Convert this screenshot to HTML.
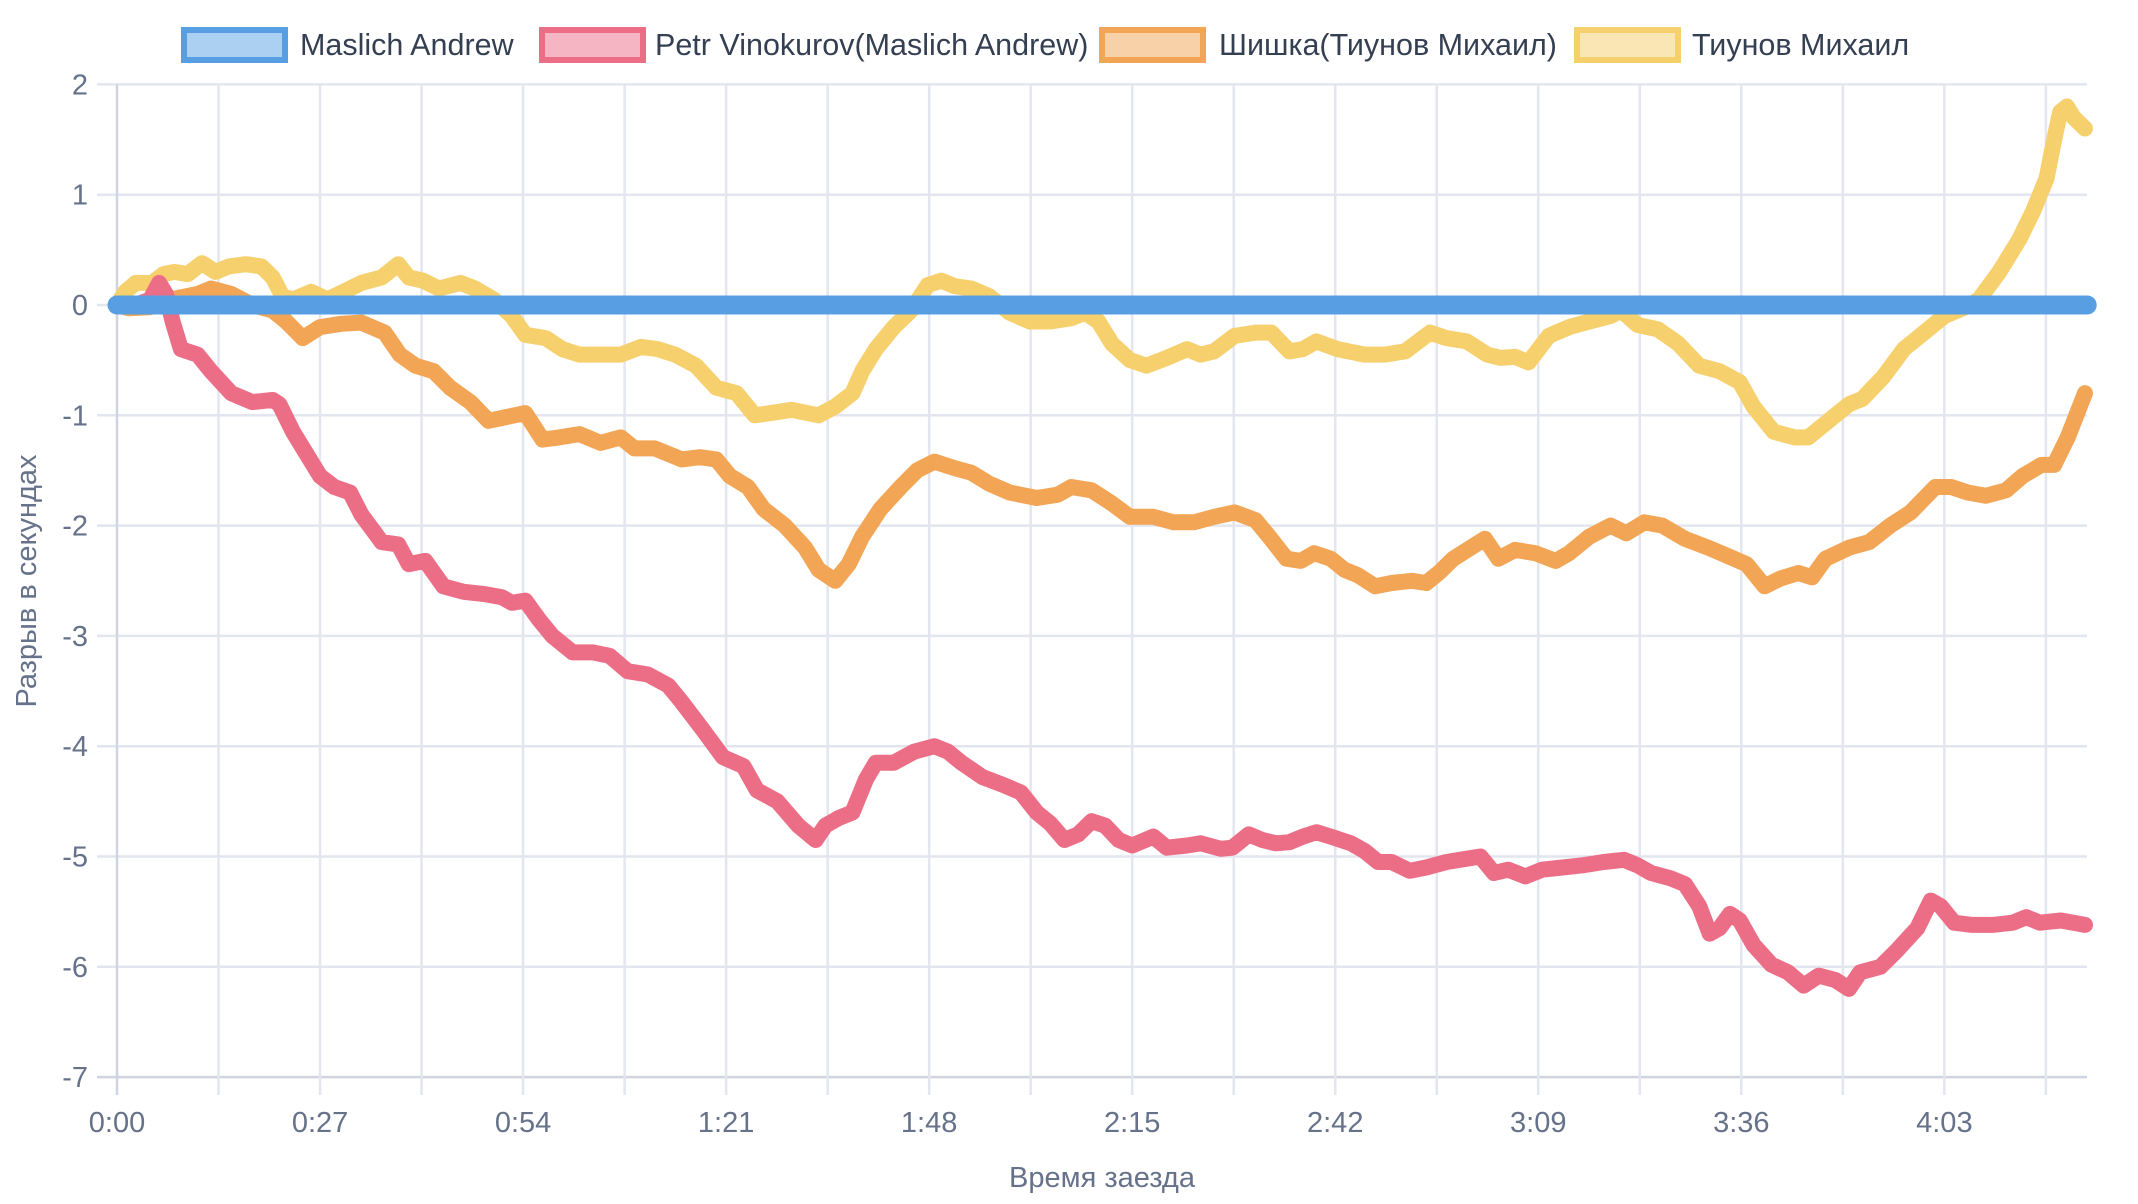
<!DOCTYPE html>
<html><head><meta charset="utf-8"><style>
html,body{margin:0;padding:0;background:#fff;}
svg{display:block;font-family:"Liberation Sans","Noto Sans CJK SC",sans-serif;}
</style></head><body>
<svg id="chart" width="2138" height="1204" viewBox="0 0 2138 1204" xmlns="http://www.w3.org/2000/svg">
<g id="grid"></g>
<g id="axes"></g>
<g id="series"></g>
<g id="legend"></g>
<text x="1102" y="1187" font-size="29" fill="#66718a" text-anchor="middle">Время заезда</text>
<text transform="translate(36,581) rotate(-90)" font-size="29" fill="#66718a" text-anchor="middle">Разрыв в секундах</text>
</svg>
<script>
const yTicks=[2,1,0,-1,-2,-3,-4,-5,-6,-7];
const xTickLabels=["0:00","0:27","0:54","1:21","1:48","2:15","2:42","3:09","3:36","4:03"];
const seriesNames=["Maslich Andrew","Petr Vinokurov(Maslich Andrew)","Шишка(Тиунов Михаил)","Тиунов Михаил"];
const blueT=[0,262];
const blueV=[0,0];
const redT=[0,2.5,4.4,5.6,6.5,7.4,8.5,10.7,12.5,15.2,18.0,20.7,21.6,23.4,25.2,27.0,28.9,31.0,32.5,35.2,37.4,38.8,41.0,43.4,46.1,48.8,51.2,52.5,54.3,56.1,57.9,60.6,63.3,65.5,67.9,70.6,73.3,75.1,77.9,80.6,83.3,85.1,87.8,90.6,92.9,94.2,96.0,97.8,99.6,100.9,103.3,106.0,108.7,110.5,112.3,115.1,117.8,120.2,122.3,124.1,126.0,127.8,129.6,131.4,133.2,135.0,137.8,139.6,142.3,144.1,146.8,148.3,150.5,152.3,154.1,155.9,157.7,159.5,161.4,164.1,165.9,167.7,169.5,171.9,174.1,176.8,179.5,181.3,183.1,185.0,187.3,189.5,192.2,194.9,197.7,200.4,202.2,204.0,206.7,208.5,210.4,211.8,213.1,214.5,215.8,217.6,220.0,222.2,224.3,226.3,228.5,230.3,231.8,234.5,236.7,239.4,241.2,242.5,244.3,246.7,249.4,252.1,253.9,255.7,258.5,261.7];
const redV=[0,0,0.05,0.2,0.1,-0.15,-0.4,-0.45,-0.6,-0.8,-0.88,-0.86,-0.9,-1.15,-1.35,-1.55,-1.65,-1.7,-1.9,-2.15,-2.17,-2.35,-2.32,-2.55,-2.6,-2.62,-2.65,-2.7,-2.68,-2.85,-3.0,-3.15,-3.15,-3.18,-3.32,-3.35,-3.45,-3.6,-3.85,-4.1,-4.18,-4.4,-4.5,-4.72,-4.85,-4.72,-4.65,-4.6,-4.3,-4.15,-4.15,-4.05,-4.0,-4.05,-4.15,-4.28,-4.35,-4.42,-4.6,-4.7,-4.85,-4.8,-4.68,-4.72,-4.85,-4.9,-4.82,-4.92,-4.9,-4.88,-4.93,-4.92,-4.8,-4.85,-4.88,-4.87,-4.82,-4.78,-4.82,-4.88,-4.95,-5.05,-5.05,-5.13,-5.1,-5.05,-5.02,-5.0,-5.15,-5.12,-5.18,-5.12,-5.1,-5.08,-5.05,-5.03,-5.08,-5.15,-5.2,-5.25,-5.45,-5.7,-5.65,-5.52,-5.58,-5.8,-5.98,-6.05,-6.17,-6.08,-6.12,-6.2,-6.05,-6.0,-5.85,-5.65,-5.4,-5.45,-5.6,-5.62,-5.62,-5.6,-5.55,-5.6,-5.58,-5.62];
const orangeT=[0,1.6,4.4,7.1,10.7,12.5,15.2,18.0,20.7,22.5,24.7,27.0,29.8,32.5,35.6,37.6,39.7,42.1,44.3,47.0,49.4,51.5,54.3,56.6,58.8,61.5,64.3,67.0,68.8,71.5,73.3,75.1,77.5,79.7,81.5,83.9,86.0,88.8,91.5,93.3,95.5,97.3,99.1,101.5,104.2,106.4,108.7,111.4,113.6,116.0,118.7,122.3,125.1,126.9,129.6,132.3,134.7,137.8,140.5,143.2,145.9,148.6,151.4,153.2,155.5,157.4,159.2,161.4,163.2,165.0,167.3,169.5,172.2,174.1,175.9,177.7,180.0,181.9,183.7,185.9,188.6,191.3,193.1,195.8,198.6,200.7,203.1,205.5,208.5,211.6,214.0,216.7,219.1,221.2,223.6,225.4,227.2,230.3,233.0,235.8,238.5,241.8,243.9,246.1,248.5,251.2,253.4,255.9,257.6,259.4,261.7];
const orangeV=[0,-0.03,-0.02,0.05,0.1,0.15,0.1,0.0,-0.05,-0.15,-0.3,-0.2,-0.17,-0.16,-0.25,-0.45,-0.55,-0.6,-0.75,-0.88,-1.05,-1.02,-0.98,-1.22,-1.2,-1.17,-1.25,-1.2,-1.3,-1.3,-1.35,-1.4,-1.38,-1.4,-1.55,-1.65,-1.85,-2.0,-2.2,-2.4,-2.5,-2.35,-2.1,-1.85,-1.65,-1.5,-1.42,-1.48,-1.52,-1.62,-1.7,-1.75,-1.72,-1.65,-1.68,-1.8,-1.92,-1.92,-1.97,-1.97,-1.92,-1.88,-1.95,-2.1,-2.3,-2.32,-2.25,-2.3,-2.4,-2.45,-2.55,-2.52,-2.5,-2.52,-2.42,-2.3,-2.2,-2.12,-2.3,-2.22,-2.25,-2.32,-2.25,-2.1,-2.0,-2.07,-1.97,-2.0,-2.12,-2.2,-2.27,-2.35,-2.55,-2.48,-2.43,-2.47,-2.3,-2.2,-2.15,-2.0,-1.88,-1.65,-1.65,-1.7,-1.73,-1.68,-1.55,-1.45,-1.45,-1.2,-0.8];
const yellowT=[0,1.1,2.5,4.7,6.2,7.6,9.4,11.3,13.1,14.9,17.1,19.2,20.7,22.0,23.4,25.8,28.0,30.1,32.5,35.2,37.4,38.8,40.7,42.8,45.7,47.6,50.1,52.5,54.3,57.0,59.2,61.5,64.3,67.0,69.7,71.9,74.2,77.0,79.7,82.4,84.8,86.9,89.7,93.3,95.5,97.8,99.1,100.9,103.3,105.6,107.8,109.6,111.4,113.6,116.0,118.7,121.4,124.1,126.9,128.7,130.5,132.3,134.7,136.9,139.6,142.3,144.1,145.9,148.6,151.4,153.5,155.9,157.7,159.5,162.3,165.9,168.6,171.3,174.6,176.8,179.5,182.2,184.0,185.9,187.7,190.4,193.1,195.8,198.6,200.0,202.2,204.9,207.6,210.4,213.1,215.8,217.6,220.3,223.1,224.9,227.6,230.3,232.1,234.9,237.6,240.3,243.0,245.8,247.6,250.3,253.0,254.8,256.6,257.6,258.4,259.3,260.2,261.7];
const yellowV=[0,0.12,0.2,0.2,0.28,0.3,0.28,0.38,0.3,0.35,0.37,0.35,0.25,0.08,0.05,0.12,0.05,0.12,0.2,0.25,0.37,0.25,0.22,0.15,0.2,0.15,0.05,-0.1,-0.27,-0.3,-0.4,-0.45,-0.45,-0.45,-0.38,-0.4,-0.45,-0.55,-0.75,-0.8,-1.0,-0.98,-0.95,-1.0,-0.92,-0.8,-0.6,-0.4,-0.2,-0.05,0.18,0.22,0.17,0.15,0.08,-0.07,-0.15,-0.15,-0.12,-0.07,-0.15,-0.35,-0.5,-0.55,-0.48,-0.4,-0.45,-0.42,-0.28,-0.25,-0.25,-0.42,-0.4,-0.33,-0.4,-0.45,-0.45,-0.42,-0.25,-0.3,-0.33,-0.45,-0.48,-0.47,-0.52,-0.28,-0.2,-0.15,-0.1,-0.05,-0.18,-0.22,-0.35,-0.55,-0.6,-0.7,-0.92,-1.15,-1.2,-1.2,-1.05,-0.9,-0.85,-0.65,-0.4,-0.25,-0.1,-0.02,0.05,0.3,0.6,0.85,1.15,1.5,1.75,1.8,1.7,1.6];

const NS="http://www.w3.org/2000/svg";
const X0=117,PXS=7.52,XEND=2087,Y0=305,PXU=110.3;
const xs=t=>X0+t*PXS;
const ys=v=>Y0-v*PXU;
function mk(tag,attrs,parent){const e=document.createElementNS(NS,tag);for(const k in attrs)e.setAttribute(k,attrs[k]);parent.appendChild(e);return e;}
const grid=document.getElementById('grid'),axes=document.getElementById('axes'),series=document.getElementById('series'),legend=document.getElementById('legend');
const yBottom=ys(-7),yTop=ys(2);
yTicks.forEach(v=>{
  const l=mk('line',{x1:97,x2:XEND,y1:ys(v),y2:ys(v),stroke:v===-7?'#cfd4df':'#e3e6ef','stroke-width':2.5},grid);
  
  
  const tx=mk('text',{x:88,y:ys(v)+10,'font-size':29,fill:'#66718a','text-anchor':'end'},axes);
  tx.textContent=String(v);
  
  
});
for(let i=0;i<=19;i++){
  const x=xs(i*13.5);
  const l=mk('line',{x1:x,x2:x,y1:yTop,y2:1095,stroke:i===0?'#cfd4df':'#e3e6ef','stroke-width':2.5},grid);
  
  
}
xTickLabels.forEach((s,i)=>{
  const tx=mk('text',{x:xs(i*27),y:1132,'font-size':29,fill:'#66718a','text-anchor':'middle'},axes);
  tx.textContent=s;
  
  
});
function drawSeries(T,V,color,w,name){
  let d='';T.forEach((t,i)=>{d+=(i?'L':'M')+xs(t).toFixed(1)+','+ys(V[i]).toFixed(1);});
  const p=mk('path',{d:d,fill:'none',stroke:color,'stroke-width':w,'stroke-linejoin':'round','stroke-linecap':'round'},series);
  
  
}
drawSeries(yellowT,yellowV,'#f7d06e',16,'series-tiunov');
drawSeries(orangeT,orangeV,'#f2a555',16,'series-shishka');
drawSeries(redT,redV,'#ec6e86',16,'series-vinokurov');
drawSeries(blueT,blueV,'#579fe2',19,'series-maslich');
const legCols=[['#579fe2','#acd0f2'],['#ec6e86','#f6b5c2'],['#f2a555','#f8d1a9'],['#f7d06e','#fae6b5']];
const legBox=[181,539,1099,1574];
const legText=[300,655,1219,1692];
seriesNames.forEach((n,i)=>{
  const r=mk('rect',{x:legBox[i]+3,y:30,width:101,height:30,fill:legCols[i][1],stroke:legCols[i][0],'stroke-width':6},legend);
  
  
  const tx=mk('text',{x:legText[i],y:55,'font-size':30.5,fill:'#343f52'},legend);
  tx.textContent=n;
  
  
});
</script>
</body></html>
